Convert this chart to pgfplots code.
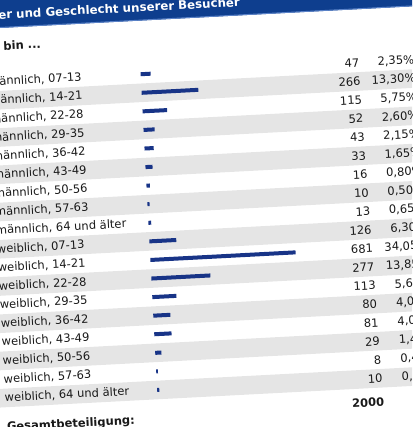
\documentclass[border=0pt]{standalone}
\usepackage{pgfplots}
\pgfplotsset{compat=1.18}
\usepackage{fontspec}
\setmainfont{DejaVu Sans}
\definecolor{bandblue}{RGB}{14,62,142}
\definecolor{bandlight}{RGB}{90,130,200}
\definecolor{rowgray}{RGB}{229,229,229}
\definecolor{barblue}{RGB}{24,52,135}
\definecolor{txt}{RGB}{25,25,25}
\tikzset{
  lab/.style={anchor=west, font=\fontsize{11.5}{13}\selectfont, text=txt, inner sep=0pt},
  val/.style={anchor=east, font=\fontsize{11.5}{13}\selectfont, text=txt, inner sep=0pt},
}
\begin{document}
\begin{tikzpicture}
\useasboundingbox (0,0) rectangle (412pt,427pt);
\clip (0,0) rectangle (412pt,427pt);
\begin{scope}[transform canvas={rotate around={3:(206pt,213.5pt)}}]
\begin{axis}[
  at={(0,0)}, anchor=south west,
  scale only axis, width=412pt, height=427pt,
  xmin=-693.2, xmax=1236.5, ymin=-2.817, ymax=20.14,
  y dir=reverse, hide axis, clip=false,
  xbar, bar width=4pt,
]
% title band
\fill[bandblue] (axis cs:-1600,-5) rectangle (axis cs:2200,-1.88);
\fill[bandlight] (axis cs:-1600,-1.93) rectangle (axis cs:2200,-1.88);
\node[lab, anchor=west, text=white, font=\bfseries\fontsize{11.8}{13}\selectfont] at (axis cs:-740,-2.6) {Alter und Geschlecht unserer Besucher};
% row backgrounds
\pgfplotsinvokeforeach{2,4,6,8,10,12,14,16,18}{
  \fill[rowgray] (axis cs:-1600,#1-0.5) rectangle (axis cs:2200,#1+0.5);
}
\node[lab, font=\bfseries\fontsize{11.5}{13}\selectfont] at (axis cs:-745,-0.914) {Ich bin ...};
% bars
\addplot[fill=barblue, draw=none, bar shift=0pt] coordinates {
 (47,1) (266,2) (115,3) (52,4) (43,5) (33,6) (16,7) (10,8) (13,9)
 (126,10) (681,11) (277,12) (113,13) (80,14) (81,15) (29,16) (8,17) (10,18)
};
% labels
\node[lab] at (axis cs:-716,1) {männlich, 07-13};
\node[lab] at (axis cs:-716,2) {männlich, 14-21};
\node[lab] at (axis cs:-716,3) {männlich, 22-28};
\node[lab] at (axis cs:-716,4) {männlich, 29-35};
\node[lab] at (axis cs:-716,5) {männlich, 36-42};
\node[lab] at (axis cs:-716,6) {männlich, 43-49};
\node[lab] at (axis cs:-716,7) {männlich, 50-56};
\node[lab] at (axis cs:-716,8) {männlich, 57-63};
\node[lab] at (axis cs:-716,9) {männlich, 64 und älter};
\node[lab] at (axis cs:-716,10) {weiblich, 07-13};
\node[lab] at (axis cs:-716,11) {weiblich, 14-21};
\node[lab] at (axis cs:-716,12) {weiblich, 22-28};
\node[lab] at (axis cs:-716,13) {weiblich, 29-35};
\node[lab] at (axis cs:-716,14) {weiblich, 36-42};
\node[lab] at (axis cs:-716,15) {weiblich, 43-49};
\node[lab] at (axis cs:-716,16) {weiblich, 50-56};
\node[lab] at (axis cs:-716,17) {weiblich, 57-63};
\node[lab] at (axis cs:-716,18) {weiblich, 64 und älter};
\node[lab, font=\bfseries\fontsize{11.5}{13}\selectfont] at (axis cs:-712,19.6) {Gesamtbeteiligung:};
% counts
\node[val] at (axis cs:1026.0,1) {47};
\node[val] at (axis cs:1027.9,2) {266};
\node[val] at (axis cs:1029.7,3) {115};
\node[val] at (axis cs:1031.6,4) {52};
\node[val] at (axis cs:1033.5,5) {43};
\node[val] at (axis cs:1035.4,6) {33};
\node[val] at (axis cs:1037.2,7) {16};
\node[val] at (axis cs:1039.1,8) {10};
\node[val] at (axis cs:1041.0,9) {13};
\node[val] at (axis cs:1042.8,10) {126};
\node[val] at (axis cs:1044.7,11) {681};
\node[val] at (axis cs:1046.6,12) {277};
\node[val] at (axis cs:1048.4,13) {113};
\node[val] at (axis cs:1050.3,14) {80};
\node[val] at (axis cs:1052.2,15) {81};
\node[val] at (axis cs:1054.1,16) {29};
\node[val] at (axis cs:1055.9,17) {8};
\node[val] at (axis cs:1057.8,18) {10};
\node[val, font=\bfseries\fontsize{11.5}{13}\selectfont] at (axis cs:1060,19.28) {2000};
% percentages
\node[val] at (axis cs:1283.4,1) {2,35\%};
\node[val] at (axis cs:1285.5,2) {13,30\%};
\node[val] at (axis cs:1287.6,3) {5,75\%};
\node[val] at (axis cs:1289.7,4) {2,60\%};
\node[val] at (axis cs:1291.8,5) {2,15\%};
\node[val] at (axis cs:1294.0,6) {1,65\%};
\node[val] at (axis cs:1296.1,7) {0,80\%};
\node[val] at (axis cs:1298.2,8) {0,50\%};
\node[val] at (axis cs:1300.3,9) {0,65\%};
\node[val] at (axis cs:1302.4,10) {6,30\%};
\node[val] at (axis cs:1304.5,11) {34,05\%};
\node[val] at (axis cs:1306.6,12) {13,85\%};
\node[val] at (axis cs:1308.7,13) {5,65\%};
\node[val] at (axis cs:1310.8,14) {4,00\%};
\node[val] at (axis cs:1313.0,15) {4,05\%};
\node[val] at (axis cs:1315.1,16) {1,45\%};
\node[val] at (axis cs:1317.2,17) {0,40\%};
\node[val] at (axis cs:1319.3,18) {0,50\%};
\end{axis}
\end{scope}
\end{tikzpicture}
\end{document}
